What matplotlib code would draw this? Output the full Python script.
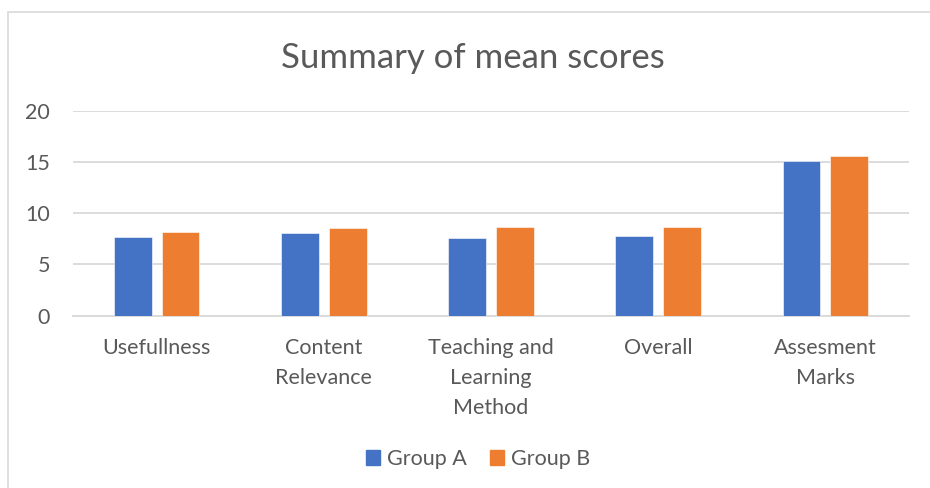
import matplotlib
matplotlib.use('Agg')
import matplotlib.pyplot as plt
from matplotlib.patches import Rectangle, Patch
import numpy as np

categories = ['Usefullness', 'Content\nRelevance', 'Teaching and\nLearning\nMethod', 'Overall', 'Assesment\nMarks']
group_a = [7.63, 8.05, 7.57, 7.79, 15.06]
group_b = [8.18, 8.57, 8.64, 8.61, 15.58]
y_ticks = [0, 5, 10, 15, 20]

BLUE = '#4472C4'
ORANGE = '#ED7D31'
TEXT = '#595959'
GRID = '#D9D9D9'

plt.rcParams['font.family'] = ['Lato', 'DejaVu Sans']

fig = plt.figure(figsize=(9.3, 4.88), dpi=100)
ax = fig.add_axes([73 / 930, 1 - 315.7 / 488, 836 / 930, 205 / 488])

x = np.arange(len(categories))
width, offset = 0.227, 0.143
ax.bar(x - offset, group_a, width, color=BLUE, edgecolor='white', linewidth=0.4, zorder=3)
ax.bar(x + offset, group_b, width, color=ORANGE, edgecolor='white', linewidth=0.4, zorder=3)

ax.set_xlim(-0.5, len(categories) - 0.5)
ax.set_ylim(0, 20)
ax.set_yticks(y_ticks)
ax.set_yticklabels([str(t) for t in y_ticks], fontsize=15.5, color=TEXT)
ax.set_xticks(x)
ax.set_xticklabels(categories, fontsize=15.5, color=TEXT, linespacing=1.62)
ax.tick_params(axis='both', length=0)
ax.tick_params(axis='y', pad=16.5)
ax.tick_params(axis='x', pad=16)
ax.grid(axis='y', color=GRID, linewidth=1.3, zorder=0)
for side in ['left', 'right', 'top']:
    ax.spines[side].set_visible(False)
ax.spines['bottom'].set_color(GRID)
ax.spines['bottom'].set_linewidth(1.3)

fig.text(473 / 930, 1 - 58 / 488, 'Summary of mean scores', ha='center', va='center',
         fontsize=25, color=TEXT)

handles = [Patch(color=BLUE, label='Group A'), Patch(color=ORANGE, label='Group B')]
fig.legend(handles=handles, loc='center', bbox_to_anchor=(478 / 930, 1 - 459 / 488), ncol=2,
           frameon=False, fontsize=15.5, labelcolor=TEXT, handlelength=0.65, handleheight=0.65,
           handletextpad=0.3, columnspacing=1.1)

fig.patches.append(Rectangle((8 / 930, -0.1), 2, 1.1 - 12 / 488, transform=fig.transFigure,
                             fill=False, edgecolor=GRID, linewidth=1.2, figure=fig))

fig.savefig('out.png', dpi=100, facecolor='white')
